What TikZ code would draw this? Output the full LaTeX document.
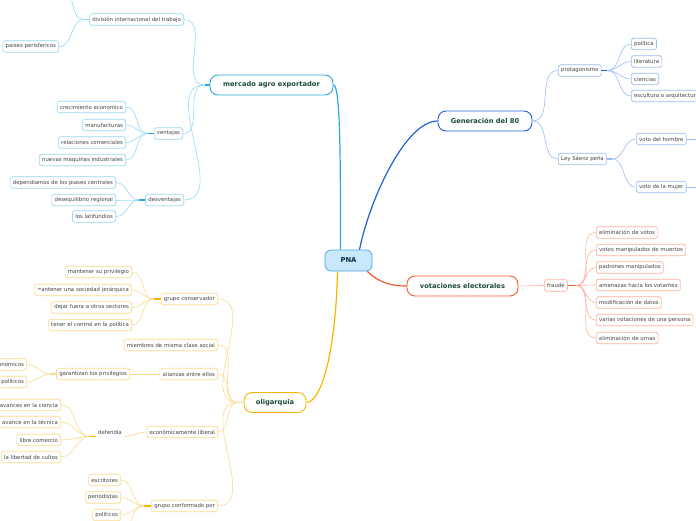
\documentclass[tikz,border=0pt]{standalone}
\usepackage{fontspec}
\setmainfont{DejaVu Sans}
\usepackage{xcolor}
\usepackage{tikz}
\usetikzlibrary{positioning,calc}

\definecolor{pnafill}{HTML}{C8E9F9}
\definecolor{pnaline}{HTML}{4AA6DA}
\definecolor{pnatext}{HTML}{0E2A4C}
\definecolor{topictext}{HTML}{1C4B3C}
\definecolor{leaftext}{HTML}{454545}
\definecolor{mercline}{HTML}{29A8E0}
\definecolor{mercleaf}{HTML}{98D6F4}
\definecolor{genline}{HTML}{1F5FD6}
\definecolor{genleaf}{HTML}{9ABBF2}
\definecolor{votline}{HTML}{F25A2C}
\definecolor{votleaf}{HTML}{FBB39B}
\definecolor{oliline}{HTML}{F8B500}
\definecolor{olileaf}{HTML}{FDD98C}

\begin{document}
\begin{tikzpicture}[
  x=1pt, y=-1pt,
  pna/.style={rectangle, draw=pnaline, line width=0.7pt, rounded corners=6pt, fill=pnafill,
              text=pnatext, font=\bfseries\fontsize{6.8}{8}\selectfont,
              minimum width=47pt, minimum height=21pt},
  topic/.style={rectangle, draw=#1, line width=0.9pt, rounded corners=8pt, fill=white,
                text=topictext, font=\bfseries\fontsize{6.7}{8}\selectfont, minimum height=20pt},
  leaf/.style={rectangle, draw=#1, line width=0.6pt, rounded corners=1.8pt, fill=white,
               text=leaftext, font=\fontsize{5.4}{6}\selectfont,
               minimum height=11.5pt, inner xsep=2.8pt, inner ysep=1pt},
  link/.style={draw=#1, line width=0.6pt},
  stub/.style={draw=#1, line width=1.1pt},
  mainlink/.style={draw=#1, line width=1.2pt}
]
  \useasboundingbox (0,0) rectangle (696,520);
  \clip (0,0) rectangle (696,520);

  \node[pna] (pna) at (348.5,260.5) {PNA};

  % mercado agro exportador
  \node[topic=mercline, minimum width=123pt] (merc) at (271.5,85) {mercado agro exportador};
  \node[leaf=mercleaf, anchor=east] (div)   at (184,19.5)  {división internacional del trabajo};
  \node[leaf=mercleaf, anchor=east] (perif) at (59,46.5)   {paises perisfericos};
  \node[leaf=mercleaf, anchor=east] (vent)  at (183,133.5) {ventajas};
  \node[leaf=mercleaf, anchor=east] (crec)  at (126,107)   {crecimiento economico};
  \node[leaf=mercleaf, anchor=east] (manu)  at (126,125)   {manufacturas};
  \node[leaf=mercleaf, anchor=east] (rel)   at (126,142.5) {relaciones comerciales};
  \node[leaf=mercleaf, anchor=east] (maq)   at (126,160)   {nuevas maquinas industriales};
  \node[leaf=mercleaf, anchor=east] (desv)  at (184,200)   {desventajas};
  \node[leaf=mercleaf, anchor=east] (dep)   at (116,182.5) {dependíamos de los piases centrales};
  \node[leaf=mercleaf, anchor=east] (deseq) at (116,200)   {desequilibrio regional};
  \node[leaf=mercleaf, anchor=east] (lati)  at (116,216.5) {los latifundios};
  \coordinate (divup) at (60,-16);

  % Generacion del 80
  \node[topic=genline, minimum width=94pt] (gen) at (485,121) {Generación del 80};
  \node[leaf=genleaf, anchor=west] (prot) at (558,70.5) {protagonismo};
  \node[leaf=genleaf, anchor=west] (poli) at (631,44)   {política};
  \node[leaf=genleaf, anchor=west] (lit)  at (631,61.5) {literatura};
  \node[leaf=genleaf, anchor=west] (cien) at (631,79)   {ciencias};
  \node[leaf=genleaf, anchor=west] (escu) at (631,96)   {escultura o arquitectura};
  \node[leaf=genleaf, anchor=west] (ley)  at (558,159)  {Ley Sáenz peña};
  \node[leaf=genleaf, anchor=west] (hom)  at (636,139)  {voto del hombre};
  \node[leaf=genleaf, anchor=west] (muj)  at (636,187)  {voto de la mujer};
  \coordinate (homr) at (712,139);
  \coordinate (mujr) at (712,187);

  % votaciones electorales
  \node[topic=votline, minimum width=111pt] (vot) at (462.5,286) {votaciones electorales};
  \node[leaf=votleaf, anchor=west] (fra)   at (544,285.5) {fraude};
  \node[leaf=votleaf, anchor=west] (elimv) at (596,232.5) {eliminación de votos};
  \node[leaf=votleaf, anchor=west] (muer)  at (596,250)   {votos manipulados de muertos};
  \node[leaf=votleaf, anchor=west] (padr)  at (596,267.5) {padrones manipulados};
  \node[leaf=votleaf, anchor=west] (amen)  at (596,285)   {amenazas hacia los votantes};
  \node[leaf=votleaf, anchor=west] (modi)  at (596,302.5) {modificación de datos};
  \node[leaf=votleaf, anchor=west] (vari)  at (596,320)   {varias votaciones de una persona};
  \node[leaf=votleaf, anchor=west] (elimu) at (596,338)   {eliminación de urnas};

  % oligarquia
  \node[topic=oliline, minimum width=62pt] (oli) at (275,402.5) {oligarquia};
  \node[leaf=olileaf, anchor=east] (cons)  at (218,299)   {grupo conservador};
  \node[leaf=olileaf, anchor=east] (priv)  at (132,272)   {mantener su privilegio};
  \node[leaf=olileaf, anchor=east] (jera)  at (132,290)   {\raisebox{0.35ex}{\fontsize{3.8}{4}\selectfont m}antener una sociedad jerárquica};
  \node[leaf=olileaf, anchor=east] (fuera) at (132,307.5) {dejar fuera a otros sectores};
  \node[leaf=olileaf, anchor=east] (ctrl)  at (132,325)   {tener el control en la política};
  \node[leaf=olileaf, anchor=east] (miem)  at (218,345)   {miembros de misma clase social};
  \node[leaf=olileaf, anchor=east] (alia)  at (218,374)   {alianzas entre ellos};
  \node[leaf=olileaf, anchor=east] (gara)  at (130,374)   {garantizan los privilegios};
  \node[leaf=olileaf, anchor=east] (econo) at (27,364.5)  {económicos};
  \node[leaf=olileaf, anchor=east] (polit) at (27,382)    {políticos};
  \node[leaf=olileaf, anchor=east] (libe)  at (218,432)   {económicamente liberal};
  \node[anchor=east, text=leaftext, font=\fontsize{5.4}{6}\selectfont, inner sep=2pt] (defe) at (124,432) {defendía};
  \node[leaf=olileaf, anchor=east] (cienc) at (61,405)    {avances en la ciencia};
  \node[leaf=olileaf, anchor=east] (tecn)  at (61,422)    {avance en la técnica};
  \node[leaf=olileaf, anchor=east] (come)  at (61,440)    {libre comercio};
  \node[leaf=olileaf, anchor=east] (cult)  at (61,457)    {la libertad de cultos};
  \node[leaf=olileaf, anchor=east] (conf)  at (218,506)   {grupo conformado por};
  \node[leaf=olileaf, anchor=east] (escr)  at (121,480)   {escritores};
  \node[leaf=olileaf, anchor=east] (peri)  at (121,497.5) {periodistas};
  \node[leaf=olileaf, anchor=east] (polis) at (121,515)   {políticos};
  \coordinate (confdown) at (116,540);

  % main links
  \draw[mainlink=mercline] (merc.east) .. controls +(7,0) and +(0,-90) .. ([xshift=-8pt]pna.north);
  \draw[mainlink=genline] ([xshift=11pt]pna.north) .. controls +(10,-50) and +(-32,0) .. (gen.west);
  \draw[mainlink=votline] ([xshift=-5pt]pna.south east) .. controls +(12,12) and +(-14,0) .. (vot.west);
  \draw[mainlink=oliline] ([xshift=-11pt]pna.south) .. controls +(-2,85) and +(14,0) .. (oli.east);

  % mercado links
  \draw[stub=mercline] (merc.west) -- ++(-5,0) coordinate (mercj);
  \draw[link=mercleaf] (mercj) to[out=180,in=0] (div.east);
  \draw[link=mercleaf] (mercj) to[out=180,in=0] (vent.east);
  \draw[link=mercleaf] (mercj) to[out=180,in=0] (desv.east);
  \draw[stub=mercleaf] (div.west) -- ++(-5,0) coordinate (divj);
  \draw[link=mercleaf] (divj) to[out=180,in=0] (divup);
  \draw[link=mercleaf] (divj) to[out=180,in=0] (perif.east);
  \draw[stub=mercline] (vent.west) -- ++(-6,0) coordinate (ventj);
  \draw[link=mercleaf] (ventj) to[out=180,in=0] (crec.east);
  \draw[link=mercleaf] (ventj) to[out=180,in=0] (manu.east);
  \draw[link=mercleaf] (ventj) to[out=180,in=0] (rel.east);
  \draw[link=mercleaf] (ventj) to[out=180,in=0] (maq.east);
  \draw[stub=mercline] (desv.west) -- ++(-6,0) coordinate (desvj);
  \draw[link=mercleaf] (desvj) to[out=180,in=0] (dep.east);
  \draw[link=mercleaf] (desvj) to[out=180,in=0] (deseq.east);
  \draw[link=mercleaf] (desvj) to[out=180,in=0] (lati.east);

  % generacion links
  \draw[link=genleaf] (gen.east) to[out=0,in=180] (prot.west);
  \draw[link=genleaf] (gen.east) to[out=0,in=180] (ley.west);
  \draw[stub=genline] (prot.east) -- ++(6,0) coordinate (protj);
  \draw[link=genleaf] (protj) to[out=0,in=180] (poli.west);
  \draw[link=genleaf] (protj) to[out=0,in=180] (lit.west);
  \draw[link=genleaf] (protj) to[out=0,in=180] (cien.west);
  \draw[link=genleaf] (protj) to[out=0,in=180] (escu.west);
  \draw[stub=genleaf] (ley.east) -- ++(5,0) coordinate (leyj);
  \draw[link=genleaf] (leyj) to[out=0,in=180] (hom.west);
  \draw[link=genleaf] (leyj) to[out=0,in=180] (muj.west);
  \draw[link=genleaf] (hom.east) -- (homr);
  \draw[link=genleaf] (muj.east) -- (mujr);

  % votaciones links
  \draw[link=votleaf] (vot.east) -- (fra.west);
  \draw[stub=votline] (fra.east) -- ++(8,0) coordinate (fraj);
  \draw[link=votleaf] (fraj) to[out=0,in=180] (elimv.west);
  \draw[link=votleaf] (fraj) to[out=0,in=180] (muer.west);
  \draw[link=votleaf] (fraj) to[out=0,in=180] (padr.west);
  \draw[link=votleaf] (fraj) to[out=0,in=180] (amen.west);
  \draw[link=votleaf] (fraj) to[out=0,in=180] (modi.west);
  \draw[link=votleaf] (fraj) to[out=0,in=180] (vari.west);
  \draw[link=votleaf] (fraj) to[out=0,in=180] (elimu.west);

  % oligarquia links
  \draw[stub=olileaf] (oli.west) -- ++(-6,0) coordinate (olij);
  \draw[link=olileaf] (olij) to[out=180,in=0] (cons.east);
  \draw[link=olileaf] (olij) to[out=180,in=0] (miem.east);
  \draw[link=olileaf] (olij) to[out=180,in=0] (alia.east);
  \draw[link=olileaf] (olij) to[out=180,in=0] (libe.east);
  \draw[link=olileaf] (olij) to[out=180,in=0] (conf.east);
  \draw[stub=oliline] (cons.west) -- ++(-7,0) coordinate (consj);
  \draw[link=olileaf] (consj) to[out=180,in=0] (priv.east);
  \draw[link=olileaf] (consj) to[out=180,in=0] (jera.east);
  \draw[link=olileaf] (consj) to[out=180,in=0] (fuera.east);
  \draw[link=olileaf] (consj) to[out=180,in=0] (ctrl.east);
  \draw[link=olileaf] (alia.west) -- (gara.east);
  \draw[stub=olileaf] (gara.west) -- ++(-6,0) coordinate (garaj);
  \draw[link=olileaf] (garaj) to[out=180,in=0] (econo.east);
  \draw[link=olileaf] (garaj) to[out=180,in=0] (polit.east);
  \draw[link=olileaf] (libe.west) to[out=180,in=0] (defe.south east);
  \draw[stub=oliline] (defe.south west) -- ++(-6,0) coordinate (defej);
  \draw[link=olileaf] (defej) to[out=180,in=0] (cienc.east);
  \draw[link=olileaf] (defej) to[out=180,in=0] (tecn.east);
  \draw[link=olileaf] (defej) to[out=180,in=0] (come.east);
  \draw[link=olileaf] (defej) to[out=180,in=0] (cult.east);
  \draw[stub=oliline] (conf.west) -- ++(-7,0) coordinate (confj);
  \draw[link=olileaf] (confj) to[out=180,in=0] (escr.east);
  \draw[link=olileaf] (confj) to[out=180,in=0] (peri.east);
  \draw[link=olileaf] (confj) to[out=180,in=0] (polis.east);
  \draw[link=olileaf] (confj) to[out=180,in=0] (confdown);
\end{tikzpicture}
\end{document}
